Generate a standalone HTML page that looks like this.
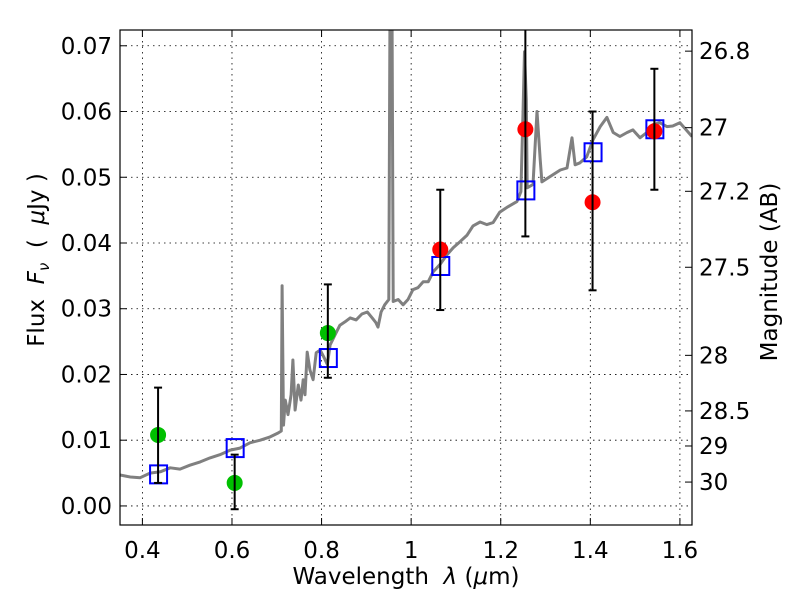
<!DOCTYPE html>
<html><head><meta charset="utf-8"><style>
html,body{margin:0;padding:0;background:#fff;}
svg{display:block;font-family:"DejaVu Sans","Liberation Sans",sans-serif;}
text{white-space:pre;}
</style></head><body>
<svg id="chart" width="800" height="600" viewBox="0 0 800 600" xmlns="http://www.w3.org/2000/svg">
<rect x="0" y="0" width="800" height="600" fill="#fff"/>
<g id="grid"></g>
<g id="spec"></g>
<g id="marks"></g>
<g id="axes"></g>
</svg>
<script>
const xTicks = [0.4, 0.6, 0.8, 1.0, 1.2, 1.4, 1.6];
const xTickLabels = ["0.4", "0.6", "0.8", "1", "1.2", "1.4", "1.6"];
const yTicks = [0, 0.01, 0.02, 0.03, 0.04, 0.05, 0.06, 0.07];
const yTickLabels = ["0.00", "0.01", "0.02", "0.03", "0.04", "0.05", "0.06", "0.07"];
const magTicks = [26.8, 27, 27.2, 27.5, 28, 28.5, 29, 30];
const magTickLabels = ["26.8", "27", "27.2", "27.5", "28", "28.5", "29", "30"];

const specWave = [.350,.373,.395,.417,.440,.462,.484,.506,.529,.551,.573,.596,.618,.640,.663,.685,.703,.710,.712,.715,.719,.725,.732,.736,.741,.748,.754,.759,.763,.768,.774,.781,.788,.797,.806,.813,.819,.830,.841,.852,.864,.877,.890,.902,.913,.921,.926,.933,.941,.950,.953,.957,.960,.971,.982,.993,1.004,1.015,1.027,1.038,1.049,1.064,1.080,1.094,1.109,1.125,1.138,1.154,1.169,1.183,1.198,1.216,1.236,1.245,1.250,1.253,1.257,1.259,1.272,1.281,1.288,1.292,1.317,1.333,1.348,1.359,1.366,1.377,1.392,1.406,1.422,1.437,1.451,1.466,1.482,1.495,1.511,1.526,1.540,1.555,1.571,1.584,1.600,1.627];
const specFlux = [.0047,.0044,.0043,.0050,.0052,.0058,.0056,.0062,.0067,.0073,.0078,.0085,.0088,.0096,.0100,.0105,.0111,.0114,.0335,.0123,.0161,.0139,.0169,.0222,.0146,.0184,.0161,.0192,.0169,.0234,.0207,.0192,.0233,.0237,.0225,.0215,.0245,.0260,.0275,.0280,.0286,.0283,.0292,.0295,.0286,.0279,.0272,.0295,.0306,.0314,.0800,.0800,.0311,.0314,.0306,.0314,.0329,.0332,.0341,.0341,.0356,.0367,.0382,.0393,.0402,.0412,.0426,.0432,.0428,.0431,.0447,.0455,.0463,.0478,.0603,.0691,.0618,.0484,.0489,.0600,.0527,.0493,.0504,.0511,.0514,.0560,.0519,.0522,.0531,.0557,.0577,.0591,.0568,.0562,.0568,.0572,.0560,.0568,.0580,.0583,.0577,.0578,.0583,.0562];

const modelWave = [0.435, 0.606, 0.814, 1.065, 1.255, 1.405, 1.543];
const modelFlux = [0.0048, 0.0088, 0.0225, 0.0365, 0.0480, 0.0538, 0.0573];

const obsWave = [0.435, 0.606, 0.814, 1.065, 1.255, 1.405, 1.543];
const obsFlux = [0.0108, 0.0035, 0.0263, 0.0390, 0.0573, 0.0462, 0.0570];
const obsLow = [0.0035, -0.0005, 0.0195, 0.0298, 0.0410, 0.0328, 0.0481];
const obsHigh = [0.0180, 0.0078, 0.0337, 0.0481, 0.0800, 0.0600, 0.0665];
const obsColor = ["#00c000", "#00c000", "#00c000", "#ff0000", "#ff0000", "#ff0000", "#ff0000"];

const L = 120, R = 692, T = 30, B = 525;
const xMin = 0.35, xMax = 1.627, yMin = -0.0029, yMax = 0.0724;
const sx = v => L + (v - xMin) / (xMax - xMin) * (R - L);
const sy = v => B - (v - yMin) / (yMax - yMin) * (B - T);
const NS = "http://www.w3.org/2000/svg";
function mk(tag, attrs, parent) {
  const e = document.createElementNS(NS, tag);
  for (const k in attrs) e.setAttribute(k, attrs[k]);
  parent.appendChild(e);
  return e;
}
const grid = document.getElementById('grid');
const spec = document.getElementById('spec');
const marks = document.getElementById('marks');
const axes = document.getElementById('axes');

const defs = mk('defs', {}, document.getElementById('chart'));
const cp = mk('clipPath', {id: 'plotclip'}, defs);
mk('rect', {x: L, y: T, width: R - L, height: B - T}, cp);
spec.setAttribute('clip-path', 'url(#plotclip)');
marks.setAttribute('clip-path', 'url(#plotclip)');

xTicks.forEach((t, i) => {
  const x = sx(t);
  const g = mk('line', {x1: x, x2: x, y1: T, y2: B, stroke: '#000', 'stroke-width': 0.8, 'stroke-dasharray': '1.5,4'}, grid);
  
  
  mk('line', {x1: x, x2: x, y1: B, y2: B - 7, stroke: '#000', 'stroke-width': 1}, axes);
  mk('line', {x1: x, x2: x, y1: T, y2: T + 7, stroke: '#000', 'stroke-width': 1}, axes);
  const tx = mk('text', {x: x, y: B + 33, 'text-anchor': 'middle', 'font-size': 23}, axes);
  tx.textContent = xTickLabels[i];
  
  
});
yTicks.forEach((t, i) => {
  const y = sy(t);
  const g = mk('line', {x1: L, x2: R, y1: y, y2: y, stroke: '#000', 'stroke-width': 0.8, 'stroke-dasharray': '1.5,4'}, grid);
  
  
  mk('line', {x1: L, x2: L + 7, y1: y, y2: y, stroke: '#000', 'stroke-width': 1}, axes);
  const tx = mk('text', {x: L - 8, y: y + 8, 'text-anchor': 'end', 'font-size': 23}, axes);
  tx.textContent = yTickLabels[i];
  
  
});
magTicks.forEach((m, i) => {
  const f = Math.pow(10, (23.9 - m) / 2.5);
  const y = sy(f);
  mk('line', {x1: R - 7, x2: R, y1: y, y2: y, stroke: '#000', 'stroke-width': 1}, axes);
  const tx = mk('text', {x: R + 7, y: y + 8, 'text-anchor': 'start', 'font-size': 23}, axes);
  tx.textContent = magTickLabels[i];
  
  
});

const pts = specWave.map((w, i) => sx(w).toFixed(1) + ',' + sy(specFlux[i]).toFixed(1)).join(' ');
const pl = mk('polyline', {points: pts, fill: 'none', stroke: '#808080', 'stroke-width': 3, 'stroke-linejoin': 'round'}, spec);



modelWave.forEach((w, i) => {
  const r = mk('rect', {x: sx(w) - 8, y: sy(modelFlux[i]) - 9, width: 17, height: 18, fill: 'none', stroke: '#0000ff', 'stroke-width': 2}, marks);
  
  
});
obsWave.forEach((w, i) => {
  const c = mk('circle', {cx: sx(w), cy: sy(obsFlux[i]), r: 8, fill: obsColor[i]}, marks);
  
  
});
obsWave.forEach((w, i) => {
  const x = sx(w), y1 = sy(obsLow[i]), y2 = sy(obsHigh[i]);
  const e = mk('line', {x1: x, x2: x, y1: y1, y2: y2, stroke: '#000', 'stroke-width': 2}, marks);
  
  
  mk('line', {x1: x - 4, x2: x + 4, y1: y1, y2: y1, stroke: '#000', 'stroke-width': 2}, marks);
  mk('line', {x1: x - 4, x2: x + 4, y1: y2, y2: y2, stroke: '#000', 'stroke-width': 2}, marks);
});

const frame = mk('rect', {x: L, y: T, width: R - L, height: B - T, fill: 'none', stroke: '#000', 'stroke-width': 1.2}, axes);


</script>
<svg style="position:absolute;left:0;top:0" width="800" height="600" xmlns="http://www.w3.org/2000/svg" font-family="DejaVu Sans, Liberation Sans, sans-serif">
<text x="406" y="584" text-anchor="middle" font-size="23" xml:space="preserve">Wavelength  <tspan font-style="italic">λ</tspan> (<tspan font-style="italic">μ</tspan>m)</text>
<text transform="translate(44,260) rotate(-90)" text-anchor="middle" font-size="23" xml:space="preserve">Flux  <tspan font-style="italic">F</tspan><tspan font-style="italic" font-size="15" dy="5">ν</tspan><tspan dy="-5">  (  </tspan><tspan font-style="italic">μ</tspan>Jy )</text>
<text transform="translate(777,272) rotate(-90)" text-anchor="middle" font-size="23">Magnitude (AB)</text>
</svg>
</body></html>
